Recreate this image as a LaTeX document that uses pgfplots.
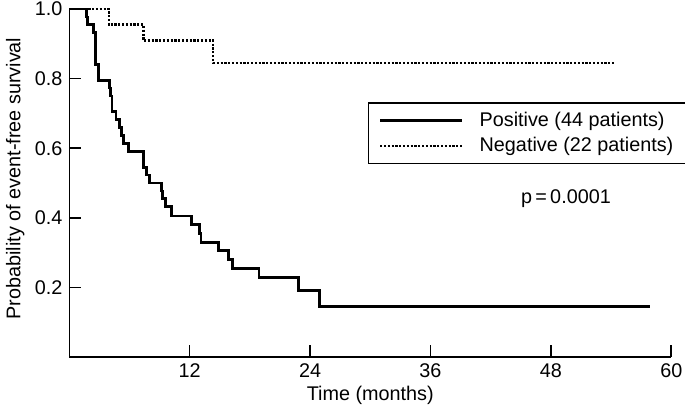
\documentclass[border=0pt]{standalone}
\usepackage{fontspec}
\setmainfont{Liberation Sans}
\usepackage{pgfplots}
\pgfplotsset{compat=1.18}
\begin{document}
\fontsize{9.9bp}{12bp}\selectfont
\begin{tikzpicture}
\begin{axis}[
  scale only axis,
  width=301bp, height=174bp,
  xmin=0, xmax=60, ymin=0, ymax=1,
  clip=false,
  axis lines=left,
  axis line style={-, line width=0.8bp},
  xtick={12,24,36,48,60},
  ytick={0.2,0.4,0.6,0.8,1.0},
  yticklabel style={/pgf/number format/fixed, /pgf/number format/fixed zerofill, /pgf/number format/precision=1},
  /pgf/number format/assume math mode=true,
  tick align=inside,
  major tick length=6bp,
  tick style={line width=0.8bp, black},
  xlabel={Time (months)},
  ylabel={Probability of event-free survival},
  xlabel style={at={(axis description cs:0.5,-0.109)}, anchor=center},
  ylabel style={at={(axis description cs:-0.0897,0.513)}, anchor=center},
  legend style={at={(axis cs:29.8,0.7316)}, anchor=north west, draw=black, line width=0.6bp,
    inner xsep=5bp, inner ysep=2.5bp, row sep=0bp, column sep=6bp,
    font=\fontsize{9.9bp}{12bp}\selectfont},
  legend cell align=left,
  legend image code/.code={\draw[#1] (0bp,0bp) -- (41bp,0bp);},
]
\addplot[const plot, black, line width=1.4bp] coordinates {
(0,1.0) (1.68,0.977) (1.85,0.955) (2.45,0.932) (2.6,0.841) (2.95,0.795)
(3.98,0.773) (4.12,0.750) (4.25,0.705) (4.65,0.682) (5.04,0.659) (5.24,0.636)
(5.37,0.614) (5.87,0.591) (7.43,0.545) (7.70,0.523) (7.96,0.500) (9.15,0.477)
(9.29,0.455) (9.62,0.432) (10.19,0.405) (12.16,0.380) (12.94,0.355) (13.13,0.330)
(14.88,0.306) (15.85,0.280) (16.3,0.254) (18.9,0.229) (22.85,0.192) (24.92,0.144)
(57.9,0.144)
};
\addlegendentry{Positive (44 patients)}
\addplot[const plot, black, line width=1.2bp, dash pattern=on 1.1bp off 0.8bp] coordinates {
(0,1.0) (3.93,0.955) (7.4,0.909) (14.35,0.845) (54.3,0.845)
};
\addlegendentry{Negative (22 patients)}
\node at (axis cs:49.5,0.4545) {p\,=\,0.0001};
\end{axis}
\pgfresetboundingbox
\path[use as bounding box] ([xshift=-34.65bp,yshift=-24.5bp]current axis.south west) rectangle ([xshift=6.85bp,yshift=4.5bp]current axis.north east);
\end{tikzpicture}
\end{document}
